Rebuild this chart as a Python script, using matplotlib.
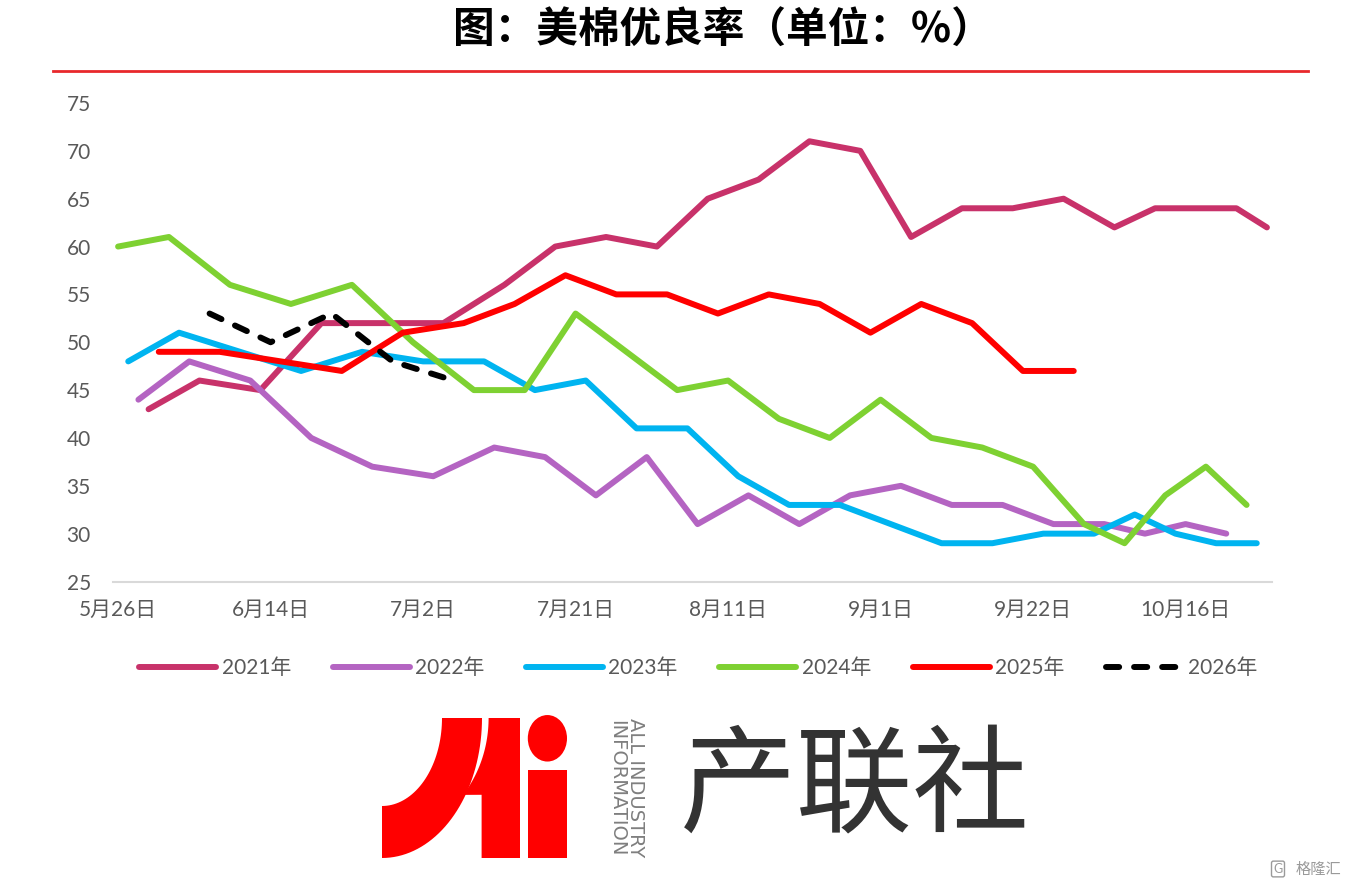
import matplotlib
matplotlib.use('Agg')
import matplotlib.pyplot as plt
import numpy as np
import pandas as pd
from matplotlib.patches import Polygon, Ellipse, Rectangle

plt.rcParams['font.family'] = ['Lato', 'Noto Sans CJK SC', 'DejaVu Sans']

# 各年份数据（每周日统计，优良率 %）
years = ['2021年', '2022年', '2023年', '2024年', '2025年', '2026年']
start_dates = ['2021-05-30', '2022-05-29', '2023-05-28', '2024-05-26', '2025-06-01', '2026-06-07']
v2021 = [43, 46, 45, 52, 52, 52, 56, 60, 61, 60, 65, 67, 71, 70, 61, 64, 64, 65, 62, 64, 64, 64, 62]
v2022 = [44, 48, 46, 40, 37, 36, 39, 38, 34, 38, 31, 34, 31, 34, 35, 33, 33, 31, 31, 30, 31, 30]
v2023 = [48, 51, 49, 47, 49, 48, 48, 45, 46, 41, 41, 36, 33, 33, 31, 29, 29, 30, 30, 32, 30, 29, 29]
v2024 = [60, 61, 56, 54, 56, 50, 45, 45, 53, 49, 45, 46, 42, 40, 44, 40, 39, 37, 31, 29, 34, 37, 33]
v2025 = [49, 49, 48, 47, 51, 52, 54, 57, 55, 55, 53, 55, 54, 51, 54, 52, 47, 47]
v2026 = [53, 50, 53, 48, 46]
series = [v2021, v2022, v2023, v2024, v2025, v2026]
colors = ['#C8326A', '#B464C2', '#00B4F0', '#7ED132', '#FF0000', '#000000']

# 日期 -> 月日；横轴为所有年份月日的并集（分类轴）
dates = [pd.date_range(s, periods=len(v), freq='7D') for s, v in zip(start_dates, series)]
cats = sorted({(d.month, d.day) for ds in dates for d in ds})
cat_idx = {c: i for i, c in enumerate(cats)}

fig = plt.figure(figsize=(13.62, 8.86), dpi=100)
W, H = 1362, 886
ax = fig.add_axes([113 / W, 1 - 581.5 / H, (1272 - 113) / W, (581.5 - 103) / H])

for ds, v, c, lab in zip(dates, series, colors, years):
    xs = [cat_idx[(d.month, d.day)] for d in ds]
    if lab == '2026年':
        ax.plot(xs, v, color=c, lw=4.3, label=lab, dashes=(2.2, 2.5),
                dash_capstyle='round', solid_joinstyle='round')
    else:
        ax.plot(xs, v, color=c, lw=4.3, label=lab,
                solid_capstyle='round', solid_joinstyle='round')

ax.set_xlim(-0.5, len(cats) - 0.5)
ax.set_ylim(25, 75)
ax.set_yticks(range(25, 80, 5))
tick_pos = list(range(0, len(cats), 15))
ax.set_xticks(tick_pos)
ax.set_xticklabels([f'{cats[i][0]}月{cats[i][1]}日' for i in tick_pos])
ax.tick_params(axis='both', length=0, labelsize=15, colors='#595959')
ax.tick_params(axis='y', pad=16)
ax.tick_params(axis='x', pad=13)
for s in ['top', 'right', 'left']:
    ax.spines[s].set_visible(False)
ax.spines['bottom'].set_color('#d9d9d9')
ax.spines['bottom'].set_linewidth(1.5)

leg = fig.legend(loc='center', bbox_to_anchor=(698.5 / W, 1 - 668 / H), ncol=6,
                 frameon=False, fontsize=15, handlelength=3.7, handletextpad=0.25,
                 columnspacing=2.0, labelcolor='#595959')

# 标题与红线、底部logo（像素坐标叠加层）
ov = fig.add_axes([0, 0, 1, 1])
ov.set_xlim(0, W)
ov.set_ylim(H, 0)
ov.axis('off')
ov.text(723, 31, '图：美棉优良率（单位：%）', ha='center', va='center',
        fontsize=30, fontweight='bold', family=['Noto Sans CJK SC', 'DejaVu Sans'], color='black')
ov.plot([53, 1308], [71, 71], color='#E8282B', lw=2)

cx, cy = 382, 718
t = np.linspace(0, np.pi / 2, 40)
outer = np.c_[cx + 100 * np.cos(t), cy + 140 * np.sin(t)]
inner = np.c_[cx + 60 * np.cos(t), cy + 88 * np.sin(t)][::-1]
ov.add_patch(Polygon(np.vstack([outer, inner]), closed=True, color='#FF0000', lw=0))
t2 = np.linspace(0, np.radians(40.5), 30)
arc = np.c_[cx + 106.6 * np.cos(t2), cy + 118.4 * np.sin(t2)]
mid = np.vstack([arc, [[481.6, 794.8], [481.6, 858], [520, 858], [520, 718]]])
ov.add_patch(Polygon(mid, closed=True, color='#FF0000', lw=0))
ov.add_patch(Ellipse((547.4, 738.3), 39.2, 46.5, color='#FF0000', lw=0))
ov.add_patch(Rectangle((527.8, 770), 39.2, 88, color='#FF0000', lw=0))
ov.text(626, 788, 'ALL INDUSTRY\nINFORMATION', rotation=-90, ha='center', va='center',
        ma='center', fontsize=14, color='#7f7f7f', family='DejaVu Sans', linespacing=1.0)
ov.text(855, 790, '产联社', ha='center', va='center', fontsize=84,
        family=['Noto Sans CJK SC'], color='#333333')
ov.text(1278, 869, 'G', ha='center', va='center', fontsize=9, color='#9a9a9a',
        bbox=dict(boxstyle='round,pad=0.15', fc='white', ec='#9a9a9a', lw=1))
ov.text(1318, 869, '格隆汇', ha='center', va='center', fontsize=11,
        family=['Noto Sans CJK SC'], color='#9a9a9a')

fig.savefig('out.png', dpi=100)
